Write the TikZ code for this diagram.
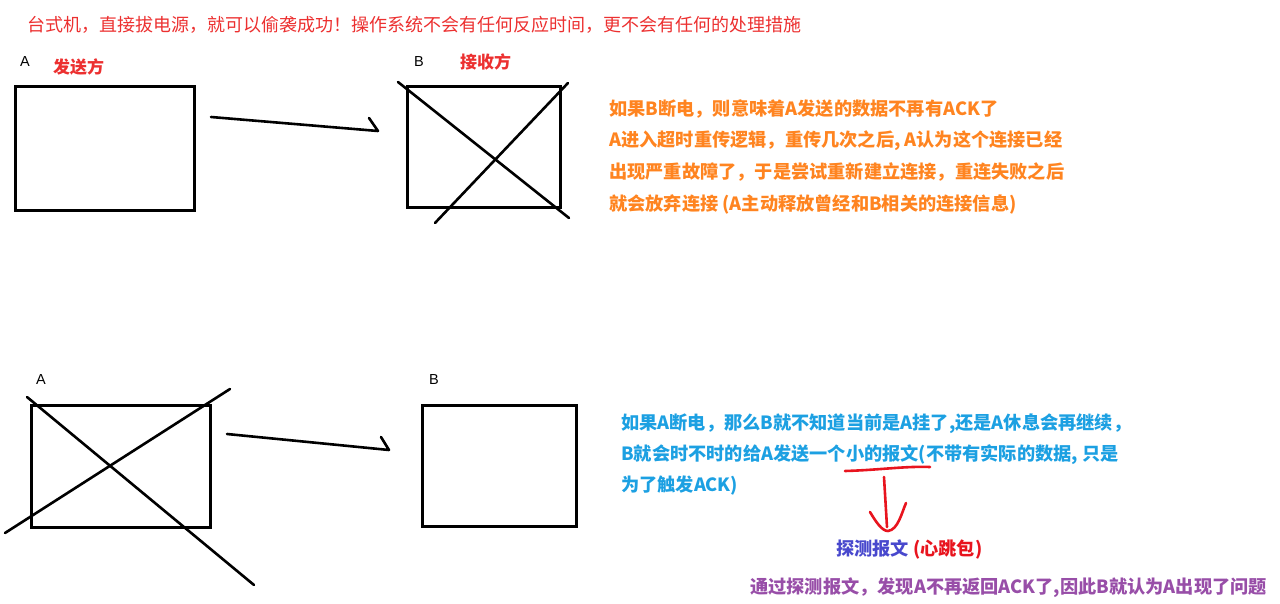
\documentclass[tikz,border=0pt]{standalone}
\usepackage{fontspec}
\setmainfont{Noto Sans CJK SC}
\newfontfamily\latfont{Liberation Sans}
\definecolor{titlered}{RGB}{236,48,48}
\definecolor{orangetx}{RGB}{255,132,32}
\definecolor{bluetx}{RGB}{28,160,226}
\definecolor{probeblue}{RGB}{72,72,205}
\definecolor{purpletx}{RGB}{152,78,168}
\definecolor{penred}{RGB}{232,20,30}
\tikzset{
  txt/.style={anchor=west, inner sep=0pt, font=\fontsize{18}{20}\selectfont},
  boldtxt/.style={txt, font=\fontsize{18.2}{20}\selectfont\bfseries},
  lbl/.style={anchor=west, inner sep=0pt, font=\latfont\fontsize{14.5}{16}\selectfont},
  box/.style={draw=black, line width=3pt, minimum width=#1, inner sep=0pt},
  pen/.style={draw=black, line width=2.6pt, line cap=round, line join=round},
  redpen/.style={draw=penred, line width=2.6pt, line cap=round, line join=round}
}
\begin{document}
\begin{tikzpicture}[x=1pt,y=-1pt]
\useasboundingbox (0,0) rectangle (1280,604);
% title
\node[txt, text=titlered] (title) at (27,25) {台式机，直接拔电源，就可以偷袭成功！操作系统不会有任何反应时间，更不会有任何的处理措施};

% ---------- top scenario ----------
\node[lbl] (ta) at (20,62) {A};
\node[boldtxt, text=titlered, font=\fontsize{17}{19}\selectfont\bfseries] (sender) at (53,67) {发送方};
\node[box=179pt, minimum height=124pt] (A1) at (104.5,149) {};
\node[lbl] (tb) at (414,62) {B};
\node[boldtxt, text=titlered, font=\fontsize{17}{19}\selectfont\bfseries] (recv) at (460,62) {接收方};
\node[box=153pt, minimum height=121pt] (B1) at (483.5,147.5) {};
\coordinate (x1a) at (398,82);
\coordinate (x1b) at (569,218);
\coordinate (x1c) at (435,223);
\coordinate (x1d) at (568,83);
\draw[pen] (x1a) -- (x1b);
\draw[pen] (x1c) -- (x1d);
\coordinate (ar1s) at (211,117);
\coordinate (ar1e) at (378,131);
\coordinate (ar1h) at (369,118);
\draw[pen] (ar1s) -- (ar1e) -- (ar1h);

\node[boldtxt, text=orangetx] (o1) at (609,109) {如果B断电，则意味着A发送的数据不再有ACK了};
\node[boldtxt, text=orangetx] (o2) at (609,141) {A进入超时重传逻辑，重传几次之后, A认为这个连接已经};
\node[boldtxt, text=orangetx] (o3) at (609,172) {出现严重故障了，于是尝试重新建立连接，重连失败之后};
\node[boldtxt, text=orangetx] (o4) at (609,204) {就会放弃连接 (A主动释放曾经和B相关的连接信息)};

% ---------- bottom scenario ----------
\node[lbl] (ba) at (36,380) {A};
\node[box=179pt, minimum height=122pt] (A2) at (120.5,466) {};
\coordinate (x2a) at (27,397);
\coordinate (x2b) at (254,585);
\coordinate (x2c) at (5,533);
\coordinate (x2d) at (230,389);
\draw[pen] (x2a) -- (x2b);
\draw[pen] (x2c) -- (x2d);
\node[lbl] (bb) at (429,380) {B};
\node[box=154pt, minimum height=121pt] (B2) at (499,465.5) {};
\coordinate (ar2s) at (227,434);
\coordinate (ar2e) at (389,450);
\coordinate (ar2h) at (381,437);
\draw[pen] (ar2s) -- (ar2e) -- (ar2h);

\node[boldtxt, text=bluetx] (b1) at (621,424) {如果A断电，那么B就不知道当前是A挂了,还是A休息会再继续，};
\node[boldtxt, text=bluetx] (b2) at (621,455) {B就会时不时的给A发送一个小的报文(不带有实际的数据, 只是};
\node[boldtxt, text=bluetx] (b3) at (621,486) {为了触发ACK)};

% red hand-drawn underline and arrow
\coordinate (ul1) at (845,471);
\coordinate (ul2) at (930,467);
\draw[redpen] (ul1) .. controls (880,470) and (905,466) .. (ul2);
\coordinate (vs) at (884,477);
\coordinate (ve) at (887,527);
\draw[redpen] (vs) -- (ve);
\coordinate (h1) at (870,512);
\coordinate (h2) at (888,531);
\coordinate (h3) at (906,503);
\draw[redpen] (h1) .. controls (876,522) and (882,531) .. (h2) .. controls (898,530) and (902,512) .. (h3);

\node[boldtxt, probeblue] (probe) at (836,549) {探测报文 \textcolor{penred}{(心跳包)}};
\node[boldtxt, text=purpletx] (concl) at (750,588) {通过探测报文，发现A不再返回ACK了,因此B就认为A出现了问题};
\end{tikzpicture}
\end{document}
